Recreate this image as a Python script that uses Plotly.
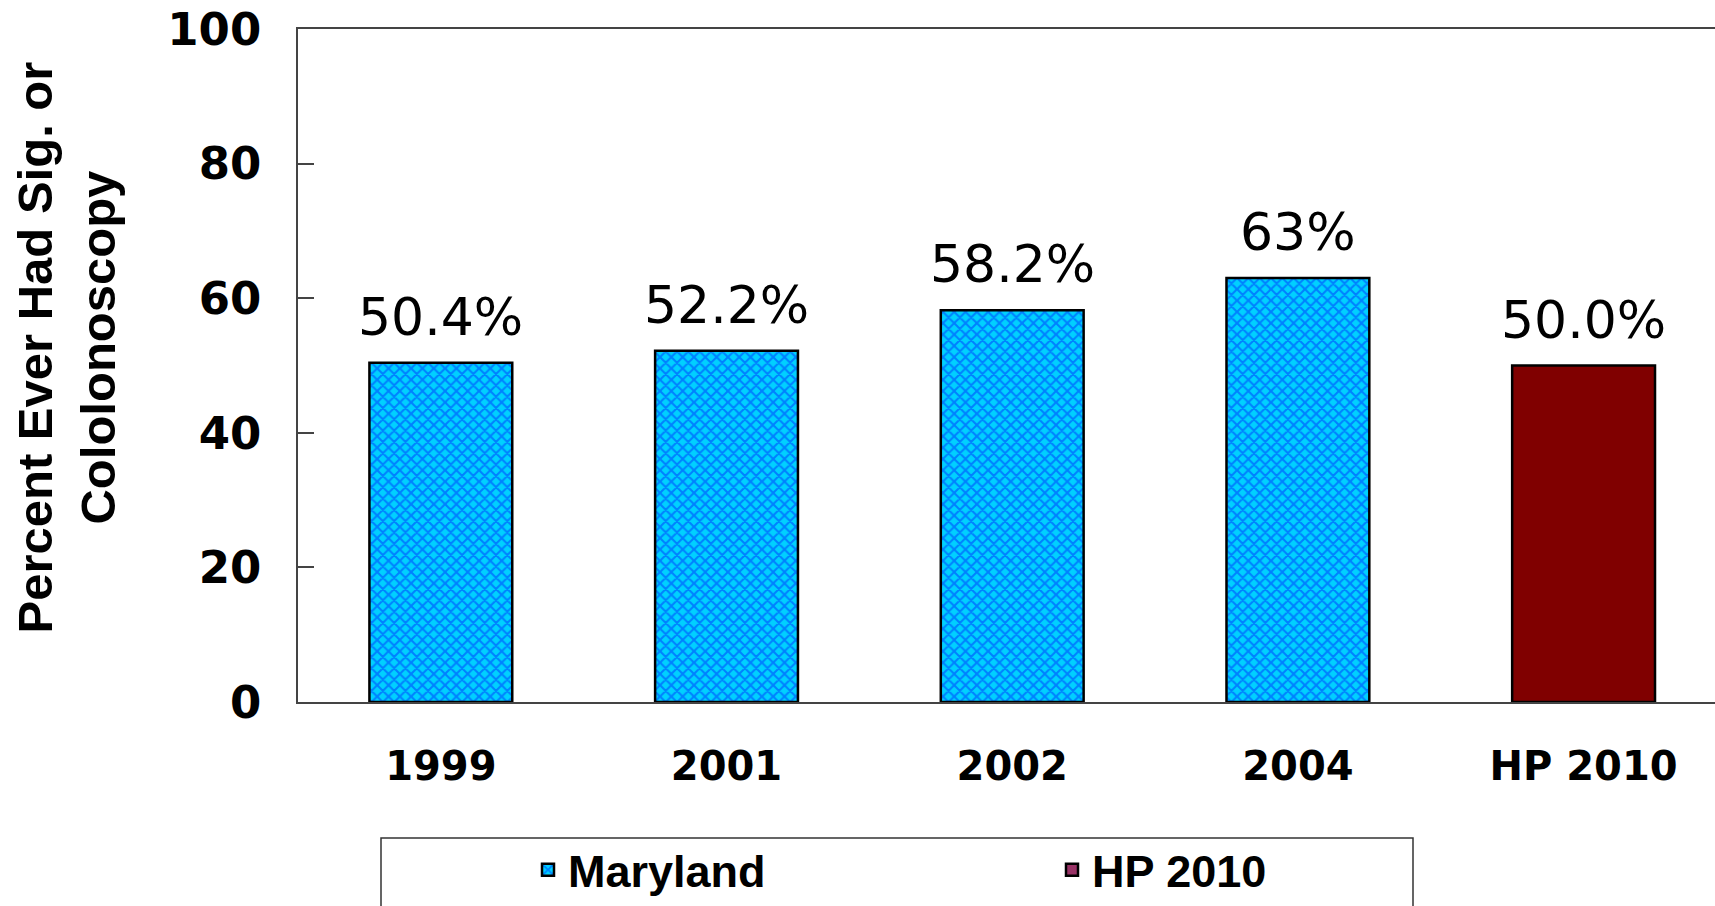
import plotly.graph_objects as go

categories = ["1999", "2001", "2002", "2004", "HP 2010"]
maryland_years = ["1999", "2001", "2002", "2004"]
maryland_values = [50.4, 52.2, 58.2, 63.0]
hp_label = ["HP 2010"]
hp_values = [50.0]
value_labels = ["50.4%", "52.2%", "58.2%", "63%", "50.0%"]
y_ticks = [0, 20, 40, 60, 80, 100]

W, H = 1715, 906
L = 298
T = 29
PLOT_BOTTOM = 702
B = H - PLOT_BOTTOM
PW = W - L
PH = PLOT_BOTTOM - T


def px(xpage):
    return (xpage - L) / PW


def py(ypage):
    return (PLOT_BOTTOM - ypage) / PH


fig = go.Figure()

fig.add_trace(go.Bar(
    x=maryland_years, y=maryland_values, name="Maryland", width=0.5,
    marker=dict(color="#00C8FF", line=dict(color="black", width=2.5),
                pattern=dict(shape="x", fgcolor="#0030FF", bgcolor="#00D0FF",
                             size=8, solidity=0.45, fillmode="overlay")),
    showlegend=True,
))
fig.add_trace(go.Bar(
    x=hp_label, y=hp_values, name="HP 2010", width=0.5,
    marker=dict(color="#800000", line=dict(color="black", width=2.5)),
    showlegend=False,
))
# legend swatch for HP 2010 (different tint in the reference legend)
fig.add_trace(go.Bar(
    x=hp_label, y=[None], name="HP 2010", width=0.5,
    marker=dict(color="#993366", line=dict(color="black", width=2.5)),
    showlegend=True,
))

all_values = maryland_values + hp_values
for i, (v, t) in enumerate(zip(all_values, value_labels)):
    fig.add_annotation(x=i, y=v, text=t, showarrow=False, yanchor="middle",
                       yshift=46, font=dict(family="DejaVu Sans", size=52, color="black"))

fig.add_annotation(
    xref="paper", yref="paper", x=px(66.5), y=py(348), xanchor="center", yanchor="middle",
    text="Percent Ever Had Sig. or<br>Cololonoscopy", textangle=-90, showarrow=False,
    font=dict(family="Liberation Sans", size=49, color="black", weight="bold"),
)

fig.add_shape(type="rect", xref="paper", yref="paper",
              x0=px(381), x1=px(1413), y0=py(838), y1=py(960),
              line=dict(color="#333333", width=1.5), fillcolor="rgba(0,0,0,0)")

fig.update_layout(
    width=W, height=H, margin=dict(l=L, r=0, t=T, b=B, pad=0, autoexpand=False),
    paper_bgcolor="white", plot_bgcolor="white", barmode="overlay",
    showlegend=True,
    legend=dict(orientation="h", x=px(528), xanchor="left", y=py(906), yanchor="bottom",
                bgcolor="rgba(0,0,0,0)", borderwidth=0, entrywidth=479,
                font=dict(family="Liberation Sans", size=45, color="black", weight="bold")),
    xaxis=dict(categoryorder="array", categoryarray=categories, range=[-0.5, 4.46],
               showline=True, mirror=True, linecolor="#444444", linewidth=1.5,
               ticks="", showgrid=False, ticklabelstandoff=28,
               tickfont=dict(family="DejaVu Sans", size=40, color="black", weight="bold")),
    yaxis=dict(range=[0, 100], tickvals=y_ticks, showline=True, mirror=True,
               linecolor="#444444", linewidth=1.5, ticks="inside", ticklen=16,
               tickcolor="#444444", tickwidth=1.5, showgrid=False, zeroline=False,
               ticklabelstandoff=26, ticklabeloverflow="allow",
               tickfont=dict(family="DejaVu Sans", size=45, color="black", weight="bold")),
)

fig.write_html("out.html", config={"displayModeBar": False},
               post_script="document.body.style.margin='0';")
